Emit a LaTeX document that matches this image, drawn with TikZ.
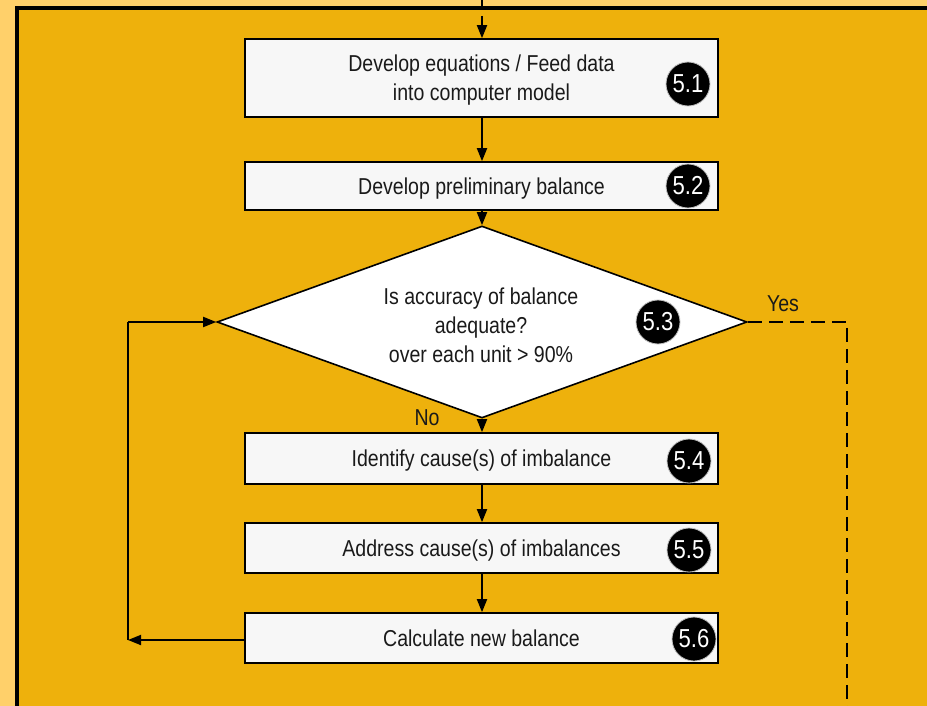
\documentclass[tikz,border=0pt]{standalone}
\usepackage{fontspec}
\setmainfont{Liberation Sans}[FakeStretch=0.85]
\usetikzlibrary{arrows.meta,shapes.geometric}
\definecolor{outerbg}{HTML}{FFD06A}
\definecolor{innerbg}{HTML}{EEB10C}
\definecolor{boxfill}{HTML}{F7F7F7}
\definecolor{ink}{HTML}{1A1A1A}
% box text, set a little below the geometric centre of its box
\newcommand\steptext[1]{\raisebox{-2.5pt}[\height][\depth]{\begin{tabular}{@{}c@{}}#1\end{tabular}}}
\tikzset{
  stepbox/.style={draw=black, line width=1.6pt, fill=boxfill, minimum width=473pt,
    inner sep=0pt, text=ink, font=\fontsize{23}{29}\selectfont},
  decision/.style={diamond, draw=black, line width=1.6pt, fill=white, inner sep=0pt,
    aspect=2.76, minimum width=530pt, minimum height=192pt},
  badge/.style={circle, fill=black, draw=black!25, line width=0.8pt, minimum size=44pt,
    inner sep=0pt, text=white, font=\fontsize{26}{26}\selectfont},
  lbl/.style={text=ink, font=\fontsize{23}{29}\selectfont, align=center, inner sep=0pt},
  flow/.style={draw=black, line width=1.8pt, -{Triangle[length=13pt,width=10pt]}},
  flowplain/.style={draw=black, line width=1.8pt},
  yesline/.style={draw=black, line width=1.8pt, dash pattern=on 14pt off 7pt},
}
\begin{document}
\begin{tikzpicture}[x=1pt,y=-1pt]
  \useasboundingbox (0,0) rectangle (927,706);
  % page background and framed panel
  \fill[outerbg] (0,0) rectangle (927,706);
  \begin{scope}
    \clip (0,0) rectangle (927,706);
    \filldraw[fill=innerbg, draw=black, line width=4pt] (17,8) rectangle (980,760);
  \end{scope}

  % process steps
  \node[stepbox, minimum height=78pt] (s51) at (481.5,78)
    {\steptext{Develop equations / Feed data\\into computer model}};
  \node[stepbox, minimum height=48pt] (s52) at (481.5,186) {\steptext{Develop preliminary balance}};
  \node[decision] (s53) at (482,322) {};
  \node[lbl] (s53txt) at (481,325)
    {Is accuracy of balance\\adequate?\\over each unit > 90\%};
  \node[stepbox, minimum height=51pt] (s54) at (481.5,458.5) {\steptext{Identify cause(s) of imbalance}};
  \node[stepbox, minimum height=50pt] (s55) at (481.5,548) {\steptext{Address cause(s) of imbalances}};
  \node[stepbox, minimum height=50pt] (s56) at (481.5,638) {\steptext{Calculate new balance}};

  % step numbers
  \node[badge] (b51) at (688,84) {5.1};
  \node[badge] (b52) at (688,186) {5.2};
  \node[badge] (b53) at (658,322) {5.3};
  \node[badge] (b54) at (689,461) {5.4};
  \node[badge] (b55) at (689,550) {5.5};
  \node[badge] (b56) at (694,639) {5.6};

  % branch labels
  \node[lbl] (yes) at (783,304) {Yes};
  \node[lbl] (no) at (427,418) {No};

  % routing points
  \coordinate (entry) at (482,-2);
  \coordinate (loopbot) at (128,640);
  \coordinate (looptop) at (128,322);
  \coordinate (yescorner) at (847,322);
  \coordinate (yesend) at (847,712);

  % connectors
  \draw[flowplain, dash pattern=on 12pt off 6pt] (entry) -- (482,24);
  \draw[flow] (482,24) -- (s51.north -| entry);
  \draw[flow] (s51.south -| entry) -- (s52.north -| entry);
  \draw[flow] (s52.south -| entry) -- (s53.north);
  \draw[flow] (s53.south) -- (s54.north -| s53.south);
  \draw[flow] (s54.south -| entry) -- (s55.north -| entry);
  \draw[flow] (s55.south -| entry) -- (s56.north -| entry);
  \draw[flow] (s56.west |- loopbot) -- (loopbot);
  \draw[flowplain] (loopbot) -- (looptop);
  \draw[flow] (looptop) -- (s53.west);
  \draw[yesline] (s53.east) -- (yescorner) -- (yesend);
\end{tikzpicture}
\end{document}
